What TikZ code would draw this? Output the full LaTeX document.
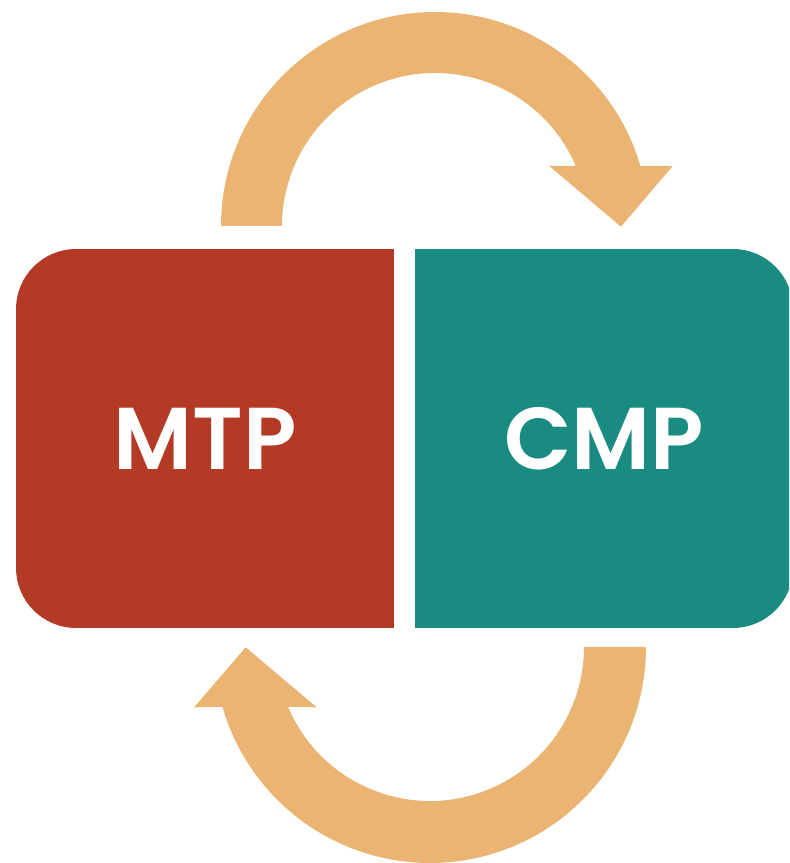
\documentclass[tikz,border=0pt]{standalone}
\usepackage{fontspec}
\usepackage{xcolor}
\usepackage{tikz}
\usetikzlibrary{positioning}
\usetikzlibrary{backgrounds}
\newfontfamily\panelfont{Poppins}[BoldFont={Poppins SemiBold}]
\definecolor{mtpred}{RGB}{179,58,37}
\definecolor{cmpteal}{RGB}{25,139,128}
\definecolor{loopgold}{RGB}{234,181,115}
\tikzstyle{panel}=[rectangle,inner sep=0pt,minimum width=7.56cm,minimum height=7.58cm,rounded corners=1.2cm,text=white,font=\panelfont\bfseries\fontsize{50}{60}\selectfont]
\tikzstyle{loop}=[fill=loopgold,draw=none]

\begin{document}
\begin{tikzpicture}[x=0.02cm,y=0.02cm]
\useasboundingbox (0,0) rectangle (789,863);
\clip (0,0) rectangle (789,863);

 \node[panel,fill=mtpred] (mtp) at (205,424.5) {MTP};
 \node[panel,fill=cmpteal] (cmp) at (604,424.5) {CMP};
\begin{scope}[on background layer]
 \fill[mtpred] (mtp.north) rectangle (mtp.south east);
 \fill[cmpteal] (cmp.north) rectangle (cmp.south west);
\end{scope}

 \coordinate (topc) at (435,637);
 \coordinate (botc) at (430,216);
\fill[loop] ([shift={(topc)}]180:214) arc[start angle=180,end angle=16.3,radius=214]
 -- (672.7,697) -- (621,636.3) -- (549.3,697)
 -- ([shift={(topc)}]23.1:153) arc[start angle=23.1,end angle=180,radius=153] -- cycle;
\fill[loop] ([shift={(botc)}]0:216) arc[start angle=0,end angle=-163.9,radius=216]
 -- (194,155.7) -- (245.7,215.7) -- (316.7,155.7)
 -- ([shift={(botc)}]-157.1:154) arc[start angle=-157.1,end angle=0,radius=154] -- cycle;
\end{tikzpicture}
\end{document}
